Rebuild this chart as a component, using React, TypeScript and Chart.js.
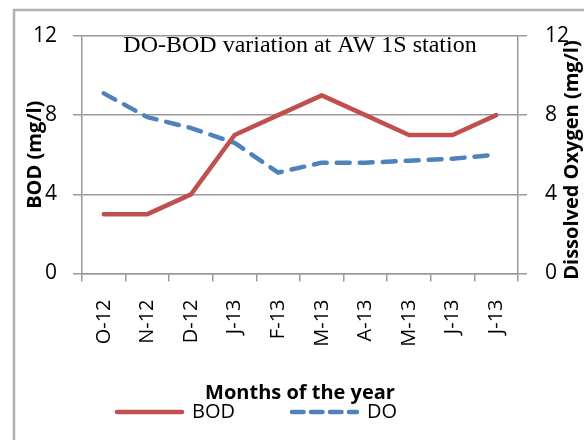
import React, { useEffect, useRef } from 'react';
import { Chart, registerables } from 'chart.js';

Chart.register(...registerables);

const months = ['O-12', 'N-12', 'D-12', 'J-13', 'F-13', 'M-13', 'A-13', 'M-13', 'J-13', 'J-13'];
const bodValues = [3, 3, 4, 7, 8, 9, 8, 7, 7, 8];
const doValues = [9.1, 7.9, 7.35, 6.6, 5.1, 5.6, 5.6, 5.7, 5.8, 6.0];
const yMin = 0;
const yMax = 12;
const yStep = 4;
const chartTitle = 'DO-BOD variation at AW 1S station';
const xTitle = 'Months of the year';
const yTitle = 'BOD (mg/l)';
const y2Title = 'Dissolved Oxygen (mg/l)';
const seriesNames = ['BOD', 'DO'];

const RED = '#C0504D';
const BLUE = '#4F81BD';
const GRID = '#9a9a9a';
const SANS = '"Open Sans", sans-serif';

const decor = {
  id: 'decor',
  beforeDraw(chart: any) {
    const ctx = chart.ctx;
    ctx.save();
    ctx.strokeStyle = '#b0b0b0';
    ctx.lineWidth = 2.5;
    ctx.strokeRect(14, 10, 800, 800);
    ctx.restore();
  },
  afterDraw(chart: any) {
    const { ctx, chartArea } = chart;
    const cx = (chartArea.left + chartArea.right) / 2;
    ctx.save();
    ctx.fillStyle = '#000';
    ctx.textAlign = 'center';
    ctx.textBaseline = 'middle';
    ctx.font = '24px "Liberation Serif", serif';
    ctx.fillText(chartTitle, cx, chartArea.top + 10);
    ctx.save();
    ctx.translate(572, 160);
    ctx.rotate(-Math.PI / 2);
    ctx.font = 'bold 20px ' + SANS;
    ctx.fillText(y2Title, 0, 0);
    ctx.restore();
    // legend
    const starts = [115, 290];
    const ly = 412;
    chart.data.datasets.forEach((ds: any, i: number) => {
      ctx.save();
      ctx.strokeStyle = ds.borderColor;
      ctx.lineWidth = ds.borderWidth;
      ctx.lineCap = 'round';
      ctx.setLineDash(ds.borderDash ? [11.5, 7.5] : []);
      ctx.beginPath();
      ctx.moveTo(starts[i] + 2, ly);
      ctx.lineTo(starts[i] + 67, ly);
      ctx.stroke();
      ctx.restore();
      ctx.textAlign = 'left';
      ctx.font = '20px ' + SANS;
      ctx.fillText(ds.label, starts[i] + 77, ly);
    });
    ctx.restore();
  },
};

export default function App() {
  const ref = useRef<HTMLCanvasElement>(null);
  useEffect(() => {
    if (!ref.current) return;
    const chart = new Chart(ref.current, {
      type: 'line',
      data: {
        labels: months,
        datasets: [
          {
            label: seriesNames[0],
            data: bodValues,
            borderColor: RED,
            backgroundColor: RED,
            borderWidth: 4.5,
            pointRadius: 0,
            tension: 0,
            borderJoinStyle: 'round',
            borderCapStyle: 'round',
            yAxisID: 'y',
          },
          {
            label: seriesNames[1],
            data: doValues,
            borderColor: BLUE,
            backgroundColor: BLUE,
            borderWidth: 4.5,
            borderDash: [13, 10],
            pointRadius: 0,
            tension: 0,
            borderJoinStyle: 'round',
            borderCapStyle: 'round',
            yAxisID: 'y2',
          },
        ],
      },
      options: {
        responsive: false,
        animation: false,
        devicePixelRatio: 1,
        layout: { padding: { top: 36, left: 0, right: 0, bottom: 0 } },
        plugins: { legend: { display: false }, title: { display: false }, tooltip: { enabled: false } },
        scales: {
          x: {
            type: 'category',
            offset: true,
            afterFit: (s: any) => { s.height = 166.5; },
            grid: { offset: true, drawOnChartArea: false, drawTicks: true, tickLength: 8, color: GRID, lineWidth: 1.5 },
            border: { display: true, color: GRID, width: 1.5 },
            ticks: { minRotation: 90, maxRotation: 90, padding: 18, color: '#000', font: { family: SANS, size: 20 }, autoSkip: false },
            title: { display: true, text: xTitle, color: '#000', font: { family: SANS, size: 20, weight: 'bold' }, padding: { top: 0, bottom: 35 } },
          },
          y: {
            position: 'left',
            min: yMin,
            max: yMax,
            afterFit: (s: any) => { s.width = 82; },
            grid: { color: GRID, lineWidth: 1.5, drawTicks: true, tickLength: 9 },
            border: { display: true, color: GRID, width: 1.5 },
            ticks: { stepSize: yStep, padding: 16, color: '#000', font: { family: SANS, size: 21 } },
            title: { display: true, text: yTitle, color: '#000', font: { family: SANS, size: 20, weight: 'bold' }, padding: { top: 23, bottom: 0 } },
          },
          y2: {
            position: 'right',
            min: yMin,
            max: yMax,
            afterFit: (s: any) => { s.width = 66; },
            grid: { drawOnChartArea: false, color: GRID, lineWidth: 1.5, drawTicks: true, tickLength: 9 },
            border: { display: true, color: GRID, width: 1.5 },
            ticks: { stepSize: yStep, padding: 18, color: '#000', font: { family: SANS, size: 21 } },
          },
        },
      },
      plugins: [decor],
    } as any);
    return () => chart.destroy();
  }, []);
  return (
    <div style={{ position: 'absolute', left: 0, top: 0, width: 584, height: 440 }}>
      <canvas ref={ref} width={584} height={440} />
    </div>
  );
}
